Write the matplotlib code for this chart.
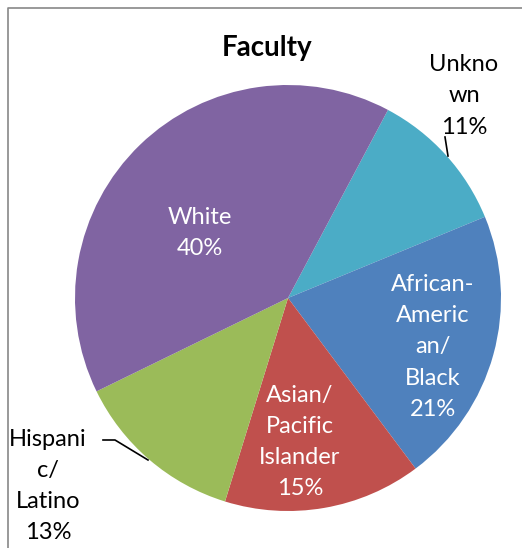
import matplotlib
matplotlib.use("Agg")
import matplotlib.pyplot as plt

labels = ["Unkno\nwn\n11%", "African-\nAmeric\nan/\nBlack\n21%", "Asian/\nPacific\nIslander\n15%",
          "Hispani\nc/\nLatino\n13%", "White\n40%"]
values = [11, 21, 15, 13, 40]
slice_colors = ["#4BACC6", "#4F81BD", "#C0504D", "#9BBB59", "#8064A2"]

plt.rcParams['font.family'] = ['Lato', 'DejaVu Sans']

fig = plt.figure(figsize=(5.22, 5.48), dpi=100)
ax = fig.add_axes([0, 0, 1, 1])

# pie in pixel coords (y up)
ax.pie(values, colors=slice_colors, startangle=62, counterclock=False,
       center=(288, 250), radius=213, frame=True)
ax.set_xlim(0, 522)
ax.set_ylim(0, 548)
ax.set_aspect('equal')
ax.axis('off')

# label positions
pos = [(464, 452), (433, 201), (300, 106), (48, 62), (200, 315)]
txt_colors = ["black", "white", "white", "black", "white"]
for lab, (x, y), c in zip(labels, pos, txt_colors):
    ax.text(x, y, lab, ha='center', va='center', fontsize=17, color=c, linespacing=1.6)

# leader lines
ax.plot([445, 448], [548 - 137, 548 - 156], color='black', lw=1.2)
ax.plot([103, 115, 148], [548 - 440, 548 - 440, 548 - 460], color='black', lw=1.2)

ax.text(267, 500, "Faculty", ha='center', va='center', fontsize=20, fontweight='bold')

# chart border (left and top edges visible)
ax.plot([7.5, 7.5, 522], [0, 540.5, 540.5], color='#888888', lw=1.2, clip_on=False)

fig.savefig("out.png", dpi=100)
